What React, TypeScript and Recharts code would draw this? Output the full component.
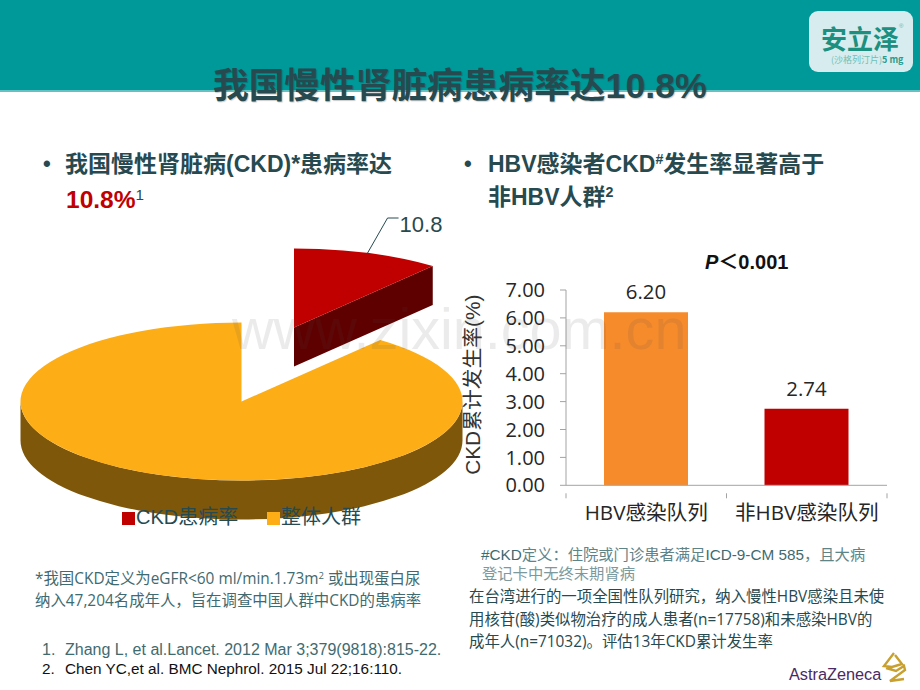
import React from 'react';
import { BarChart, Bar, XAxis, YAxis, Cell, LabelList, PieChart, Pie, Legend } from 'recharts';

const pieNames = ['CKD患病率', '整体人群'];
const pieValues = [10.8, 89.2];
const pieColors = ['#C00000', '#FDAE17'];
const pieSideColors = ['#5F0000', '#7F570B'];

const barCategories = ['HBV感染队列', '非HBV感染队列'];
const barValues = [6.2, 2.74];
const barColors = ['#F68B2C', '#C00000'];
const yTicks = [0, 1, 2, 3, 4, 5, 6, 7];

const pieData = pieNames.map((name, i) => ({ name, value: pieValues[i] }));
const barData = barCategories.map((name, i) => ({ name, value: barValues[i] }));

const TEAL = '#264A50';
const NOTE = '#3F6B70';
const AXIS = '#A3A3A3';
const SANS = '"Liberation Sans", "Noto Sans CJK SC", sans-serif';
const OPEN = '"Open Sans", "Noto Sans CJK SC", sans-serif';

// 3D pie look: flatten the circle and push the first slice out
const SQUASH = 79 / 221;
const DEPTH = 39;
const EXPLODE_X = 52.5;
const EXPLODE_Y = -74;
const BAND_HALF = 80.25;

const rad = (a: number) => (a * Math.PI) / 180;

const PieSlice = (props: any) => {
  const { cx, cy, outerRadius: r, startAngle, endAngle, fill, name } = props;
  const idx = pieNames.indexOf(name);
  const ox = cx + (idx === 0 ? EXPLODE_X : 0);
  const oy = cy + (idx === 0 ? EXPLODE_Y : 0);
  const ry = r * SQUASH;
  const pt = (a: number, d = 0) => `${ox + r * Math.cos(rad(a))} ${oy - ry * Math.sin(rad(a)) + d}`;
  const side = pieSideColors[idx];
  const large = Math.abs(startAngle - endAngle) > 180 ? 1 : 0;

  const from = Math.min(startAngle, 0);
  const to = Math.max(endAngle, -180);
  const showEnd = Math.cos(rad(endAngle)) > 0.001;
  const showStart = Math.cos(rad(startAngle)) < -0.001;

  return (
    <g>
      {from > to && (
        <path
          d={`M${pt(from)} A${r} ${ry} 0 0 1 ${pt(to)} L${pt(to, DEPTH)} A${r} ${ry} 0 0 0 ${pt(from, DEPTH)} Z`}
          fill={side}
        />
      )}
      {showEnd && <path d={`M${ox} ${oy} L${pt(endAngle)} L${pt(endAngle, DEPTH)} L${ox} ${oy + DEPTH} Z`} fill={side} />}
      {showStart && <path d={`M${ox} ${oy} L${pt(startAngle)} L${pt(startAngle, DEPTH)} L${ox} ${oy + DEPTH} Z`} fill={side} />}
      <path d={`M${ox} ${oy} L${pt(startAngle)} A${r} ${ry} 0 ${large} 1 ${pt(endAngle)} Z`} fill={fill} />
    </g>
  );
};

const PieLabel = (props: any) => {
  const { cx, cy, midAngle, outerRadius: r, index, value } = props;
  if (index !== 0) return null;
  const x0 = cx + EXPLODE_X + r * Math.cos(rad(midAngle));
  const y0 = cy + EXPLODE_Y - r * SQUASH * Math.sin(rad(midAngle));
  return (
    <g>
      <path d={`M${x0} ${y0} L${x0 + 20} ${y0 - 35} L${x0 + 31} ${y0 - 35}`} fill="none" stroke={TEAL} strokeWidth={1} />
      <text x={x0 + 32} y={y0 - 21} fontSize={22} fontFamily={SANS} fill={TEAL}>{value}</text>
    </g>
  );
};

const PieLegend = ({ payload }: any) => (
  <div style={{ position: 'relative', width: 300, height: 24, fontFamily: SANS, fontSize: 20, color: TEAL, lineHeight: '24px' }}>
    {(payload || []).map((p: any, i: number) => (
      <div key={p.value} style={{ position: 'absolute', left: i === 0 ? 0 : 145, top: 0, whiteSpace: 'nowrap' }}>
        <span style={{ display: 'inline-block', width: 13, height: 13, background: p.color, marginRight: 1, verticalAlign: '-1px' }} />
        {p.value}
      </div>
    ))}
  </div>
);

const CategoryTick = (props: any) => {
  const { x, y, payload, index } = props;
  return (
    <g>
      <line x1={x - BAND_HALF} x2={x - BAND_HALF} y1={y} y2={y + 5} stroke={AXIS} />
      {index === barCategories.length - 1 && <line x1={x + BAND_HALF} x2={x + BAND_HALF} y1={y} y2={y + 5} stroke={AXIS} />}
      <text x={x} y={y + 27} textAnchor="middle" fontSize={20.6} fontFamily={OPEN} fill="#262626">{payload.value}</text>
    </g>
  );
};

const Txt = ({ x, y, size, color = TEAL, weight = 400, font = SANS, shadow, children }: any) => (
  <div
    style={{
      position: 'absolute', left: x, top: y, transform: 'translateY(-50%)', whiteSpace: 'nowrap',
      fontSize: size, color, fontWeight: weight, fontFamily: font, lineHeight: 1.2, textShadow: shadow,
    }}
  >
    {children}
  </div>
);

const Sup = ({ children }: any) => <sup style={{ fontSize: '0.62em', lineHeight: 0, verticalAlign: '0.55em' }}>{children}</sup>;

export default function App() {
  return (
    <div style={{ position: 'absolute', left: 0, top: 0, width: 920, height: 690, background: '#fff', overflow: 'hidden' }}>
      {/* header band and product logo */}
      <div style={{ position: 'absolute', left: 0, top: 0, width: 920, height: 90, background: '#009999' }} />
      <div style={{ position: 'absolute', left: 0, top: 90, width: 920, height: 1.5, background: '#66C2C2' }} />
      <div style={{ position: 'absolute', left: 809, top: 11, width: 104, height: 61, borderRadius: 9, background: '#D7ECEE' }} />
      <Txt x={821} y={38} size={26} weight={700} color="#1C8F7E" font='"Noto Sans CJK SC"'>安立泽</Txt>
      <Txt x={899} y={27} size={6} color="#5FB5AE">®</Txt>
      <Txt x={831} y={60} size={9} color="#6FBFB4" font='"Noto Sans CJK SC"'>(沙格列汀片)<span style={{ fontWeight: 700, color: '#2C9A8C' }}>5 mg</span></Txt>

      <Txt x={213} y={86} size={35.7} weight={700} shadow="1px 1px 1px rgba(0,0,0,0.2)">我国慢性肾脏病患病率达10.8%</Txt>

      <Txt x={43} y={164} size={22} weight={700}>•</Txt>
      <Txt x={65} y={165} size={23} weight={700}>我国慢性肾脏病(CKD)*患病率达</Txt>
      <Txt x={66} y={200} size={24.5} weight={700} color="#C00000">10.8%<Sup><span style={{ color: TEAL, fontWeight: 400 }}>1</span></Sup></Txt>
      <Txt x={464} y={164} size={22} weight={700}>•</Txt>
      <Txt x={488} y={165} size={23} weight={700}>HBV感染者CKD<Sup>#</Sup>发生率显著高于</Txt>
      <Txt x={488} y={198} size={23} weight={700}>非HBV人群<Sup>2</Sup></Txt>

      {/* pie */}
      <div style={{ position: 'absolute', left: 0, top: 200 }}>
        <PieChart width={470} height={340} margin={{ top: 0, right: 0, bottom: 0, left: 0 }}>
          <Pie
            data={pieData}
            dataKey="value"
            nameKey="name"
            cx={241.5}
            cy={201.5}
            outerRadius={221}
            startAngle={90}
            endAngle={-270}
            stroke="none"
            shape={PieSlice}
            label={PieLabel}
            labelLine={false}
            isAnimationActive={false}
          >
            {pieColors.map((c) => <Cell key={c} fill={c} />)}
          </Pie>
          <Legend content={PieLegend} wrapperStyle={{ left: 122, top: 305, width: 300 }} />
        </PieChart>
      </div>

      {/* bars */}
      <div style={{ position: 'absolute', left: 460, top: 260 }}>
        <BarChart width={460} height={270} data={barData} margin={{ top: 30, right: 33, bottom: 0, left: 0 }}>
          <XAxis
            dataKey="name"
            height={44.7}
            stroke={AXIS}
            tickLine={false}
            tick={CategoryTick}
            interval={0}
          />
          <YAxis
            width={106}
            domain={[0, 7]}
            ticks={yTicks}
            interval={0}
            stroke={AXIS}
            tickSize={6}
            tickMargin={15}
            tickFormatter={(v: number) => v.toFixed(2)}
            tick={{ fontSize: 20, fontFamily: OPEN, fill: '#262626' }}
            label={{
              value: 'CKD累计发生率(%)',
              angle: -90,
              position: 'insideLeft',
              offset: 13,
              dy: -3,
              style: { fontSize: 20.8, fontFamily: SANS, fill: '#333333', textAnchor: 'middle' },
            }}
          />
          <Bar dataKey="value" barSize={84} isAnimationActive={false}>
            {barColors.map((c) => <Cell key={c} fill={c} />)}
            <LabelList
              dataKey="value"
              position="top"
              offset={13}
              formatter={(v: number) => v.toFixed(2)}
              style={{ fontSize: 20.4, fontFamily: OPEN, fill: '#262626' }}
            />
          </Bar>
        </BarChart>
      </div>

      <Txt x={705} y={262} size={20} weight={700} color="#111"><i>P</i>＜0.001</Txt>

      {/* footnotes */}
      <Txt x={35} y={579} size={15.4} color={NOTE} font={OPEN}>*我国CKD定义为eGFR&lt;60 ml/min.1.73m<Sup>2</Sup> 或出现蛋白尿</Txt>
      <Txt x={35} y={601} size={15.4} color={NOTE} font={OPEN}>纳入47,204名成年人，旨在调查中国人群中CKD的患病率</Txt>
      <Txt x={42} y={650} size={16} color={NOTE}>1.</Txt>
      <Txt x={65} y={650} size={16} color={NOTE}>Zhang L, et al.Lancet. 2012 Mar 3;379(9818):815-22.</Txt>
      <Txt x={42} y={669} size={15.3} color="#111">2.</Txt>
      <Txt x={65} y={669} size={15.3} color="#111">Chen YC,et al. BMC Nephrol. 2015 Jul 22;16:110.</Txt>

      <Txt x={481} y={555} size={15.3} color="#5E8488"><span style={{ color: NOTE }}>#CKD</span>定义：住院或门诊患者满足<span style={{ color: NOTE }}>ICD-9-CM 585</span>，且大病</Txt>
      <Txt x={482} y={574} size={15.3} color="#7C9A9E">登记卡中无终末期肾病</Txt>
      <Txt x={469} y={597} size={15.4} color={TEAL} font={OPEN}>在台湾进行的一项全国性队列研究，纳入慢性HBV感染且未使</Txt>
      <Txt x={469} y={620} size={15.4} color={TEAL} font={OPEN}>用核苷(酸)类似物治疗的成人患者(n=17758)和未感染HBV的</Txt>
      <Txt x={469} y={642} size={15.4} color={TEAL} font={OPEN}>成年人(n=71032)。评估13年CKD累计发生率</Txt>

      {/* AstraZeneca mark */}
      <Txt x={789} y={675} size={16.3} color="#4A2A62" font={SANS}>AstraZeneca</Txt>
      <svg style={{ position: 'absolute', left: 880, top: 650 }} width={28} height={34}>
        <path d="M14 3 L4 16 L12 17 L22 14 L15 5 M6 18 L16 21 L24 16 L25 20 L10 31 L24 29" fill="none" stroke="#C8A030" strokeWidth={2.4} />
      </svg>

      {/* watermark */}
      <Txt x={232} y={330} size={57.6} color="rgba(70,70,70,0.11)">www.zixin.com.cn</Txt>
    </div>
  );
}
